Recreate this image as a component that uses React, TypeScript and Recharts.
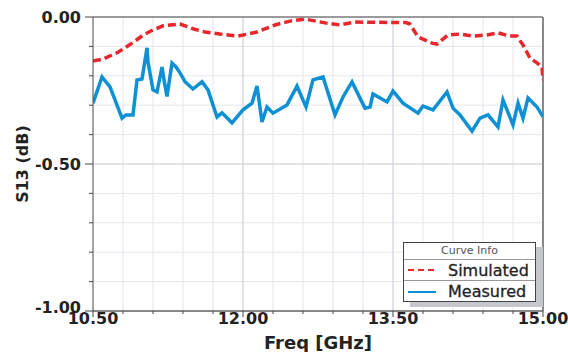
import React from "react";
import { LineChart, Line, XAxis, YAxis, CartesianGrid, ReferenceLine, Legend } from "recharts";

const xTicks = [10.5, 10.8, 11.1, 11.4, 11.7, 12.0, 12.3, 12.6, 12.9, 13.2, 13.5, 13.8, 14.1, 14.4, 14.7, 15.0];
const xMajor = [10.5, 12.0, 13.5, 15.0];
const yTicks = [0, -0.1, -0.2, -0.3, -0.4, -0.5, -0.6, -0.7, -0.8, -0.9, -1.0];
const yMajor = [0, -0.5, -1.0];

const simFreq = [10.5, 10.6, 10.75, 10.9, 11.0, 11.1, 11.2, 11.3, 11.37, 11.5, 11.62, 11.77, 11.95, 12.14, 12.32, 12.47, 12.62, 12.82, 12.97, 13.12, 13.3, 13.63, 13.67, 13.75, 13.89, 13.94, 14.05, 14.17, 14.3, 14.44, 14.55, 14.67, 14.74, 14.8, 14.87, 14.94, 14.99, 15.0];
const simS13 = [-0.15, -0.143, -0.12, -0.087, -0.062, -0.044, -0.03, -0.026, -0.024, -0.04, -0.051, -0.058, -0.065, -0.051, -0.027, -0.014, -0.007, -0.02, -0.027, -0.017, -0.018, -0.019, -0.024, -0.068, -0.089, -0.092, -0.061, -0.058, -0.065, -0.061, -0.054, -0.065, -0.065, -0.095, -0.14, -0.156, -0.17, -0.215];

const measFreq = [10.5, 10.59, 10.67, 10.79, 10.83, 10.9, 10.94, 10.99, 11.04, 11.05, 11.1, 11.14, 11.19, 11.21, 11.24, 11.29, 11.33, 11.37, 11.42, 11.5, 11.59, 11.65, 11.74, 11.79, 11.89, 12.0, 12.09, 12.14, 12.19, 12.24, 12.3, 12.44, 12.54, 12.63, 12.7, 12.8, 12.92, 13.0, 13.09, 13.22, 13.27, 13.3, 13.44, 13.5, 13.6, 13.75, 13.8, 13.9, 14.04, 14.1, 14.17, 14.29, 14.37, 14.45, 14.55, 14.6, 14.7, 14.75, 14.8, 14.85, 14.94, 15.0];
const measS13 = [-0.293, -0.204, -0.238, -0.344, -0.333, -0.333, -0.214, -0.211, -0.105, -0.153, -0.248, -0.255, -0.17, -0.214, -0.27, -0.157, -0.17, -0.19, -0.22, -0.245, -0.22, -0.248, -0.34, -0.326, -0.36, -0.316, -0.293, -0.235, -0.357, -0.306, -0.327, -0.299, -0.235, -0.306, -0.214, -0.204, -0.333, -0.272, -0.221, -0.31, -0.306, -0.262, -0.289, -0.252, -0.293, -0.327, -0.303, -0.316, -0.255, -0.31, -0.333, -0.388, -0.344, -0.333, -0.374, -0.282, -0.367, -0.293, -0.344, -0.275, -0.306, -0.34];

const simData = simFreq.map((f, i) => ({ f, v: simS13[i] }));
const measData = measFreq.map((f, i) => ({ f, v: measS13[i] }));

const RED = "#e8262b";
const BLUE = "#0e90d4";
const FONT = "'DejaVu Sans', sans-serif";

const isIn = (arr: number[], v: number) => arr.some((m) => Math.abs(m - v) < 1e-6);

const XTick = (props: any) => {
  const { x, y, payload } = props;
  const major = isIn(xMajor, payload.value);
  return (
    <g>
      <line x1={x} y1={y} x2={x} y2={y + (major ? 6 : 3)} stroke="#444" strokeWidth={1} />
      {major && (
        <text x={x} y={y + 13} textAnchor="middle" fontFamily={FONT} fontWeight="bold" fontSize={16} fill="#222">
          {Number(payload.value).toFixed(2)}
        </text>
      )}
    </g>
  );
};

const YTick = (props: any) => {
  const { x, y, payload } = props;
  const major = isIn(yMajor, payload.value);
  const bottom = Math.abs(payload.value + 1) < 1e-6;
  return (
    <g>
      <line x1={x - (major ? 8 : 4)} y1={y} x2={x} y2={y} stroke="#444" strokeWidth={1} />
      {major && (
        <text x={x - 12} y={y + (bottom ? 2 : 6)} textAnchor="end" fontFamily={FONT} fontWeight="bold" fontSize={16} fill="#222">
          {Number(payload.value).toFixed(2)}
        </text>
      )}
    </g>
  );
};

const LegendBox = () => (
  <div
    style={{
      width: 131,
      height: 58,
      border: "1px solid #444",
      background: "#fff",
      boxShadow: "7px 5px 0 #c6c7cd",
      fontFamily: FONT,
      color: "#222",
    }}
  >
    <div style={{ height: 16, borderBottom: "1px solid #999", fontSize: 11, color: "#555", textAlign: "center", lineHeight: "16px" }}>
      Curve Info
    </div>
    <div style={{ height: 20, borderBottom: "1px solid #999", display: "flex", alignItems: "center", fontSize: 16 }}>
      <svg width={44} height={20}>
        <line x1={4} y1={10} x2={31} y2={10} stroke={RED} strokeWidth={2} strokeDasharray="6 4" />
      </svg>
      <span style={{ WebkitTextStroke: "0.3px #222" }}>Simulated</span>
    </div>
    <div style={{ height: 21, display: "flex", alignItems: "center", fontSize: 16 }}>
      <svg width={44} height={20}>
        <line x1={4} y1={10} x2={32} y2={10} stroke={BLUE} strokeWidth={2} />
      </svg>
      <span style={{ WebkitTextStroke: "0.3px #222" }}>Measured</span>
    </div>
  </div>
);

export default function App() {
  return (
    <div style={{ position: "absolute", left: 0, top: 0, width: 568, height: 352, background: "#fff" }}>
      <LineChart width={568} height={352} margin={{ top: 17, right: 25, bottom: 0, left: 0 }}>
        <CartesianGrid stroke="#e6e6ee" strokeWidth={1} />
        <XAxis
          dataKey="f"
          type="number"
          domain={[10.5, 15]}
          ticks={xTicks}
          interval={0}
          allowDataOverflow
          height={41}
          tickSize={0}
          tickMargin={0}
          tick={<XTick />}
          axisLine={{ stroke: "#666", strokeWidth: 1.5 }}
          tickLine={false}
          label={{ value: "Freq [GHz]", position: "insideBottom", offset: 3, fontFamily: FONT, fontWeight: "bold", fontSize: 18, fill: "#222" }}
        />
        <YAxis
          dataKey="v"
          type="number"
          domain={[-1, 0]}
          ticks={yTicks}
          interval={0}
          allowDataOverflow
          width={93}
          tickSize={0}
          tickMargin={0}
          tick={<YTick />}
          axisLine={{ stroke: "#555", strokeWidth: 1 }}
          tickLine={false}
          label={{ value: "S13 (dB)", angle: -90, position: "insideLeft", offset: 22, fontFamily: FONT, fontWeight: "bold", fontSize: 16, fill: "#222", style: { textAnchor: "middle" } }}
        />
        <ReferenceLine x={12} stroke="#d2d3da" strokeWidth={1} />
        <ReferenceLine x={13.5} stroke="#d2d3da" strokeWidth={1} />
        <ReferenceLine y={-0.5} stroke="#d2d3da" strokeWidth={1} />
        <ReferenceLine y={0} stroke="#444" strokeWidth={1.2} />
        <ReferenceLine x={15} stroke="#888" strokeWidth={2} />
        <Line
          data={simData}
          dataKey="v"
          name="Simulated"
          type="linear"
          stroke={RED}
          strokeWidth={3.5}
          strokeDasharray="8 4"
          dot={false}
          isAnimationActive={false}
        />
        <Line
          data={measData}
          dataKey="v"
          name="Measured"
          type="linear"
          stroke={BLUE}
          strokeWidth={3.5}
          dot={false}
          isAnimationActive={false}
        />
        <Legend
          layout="horizontal"
          verticalAlign="middle"
          align="center"
          content={<LegendBox />}
          wrapperStyle={{ left: 403, top: 242, width: 133, height: 60 }}
        />
      </LineChart>
    </div>
  );
}
